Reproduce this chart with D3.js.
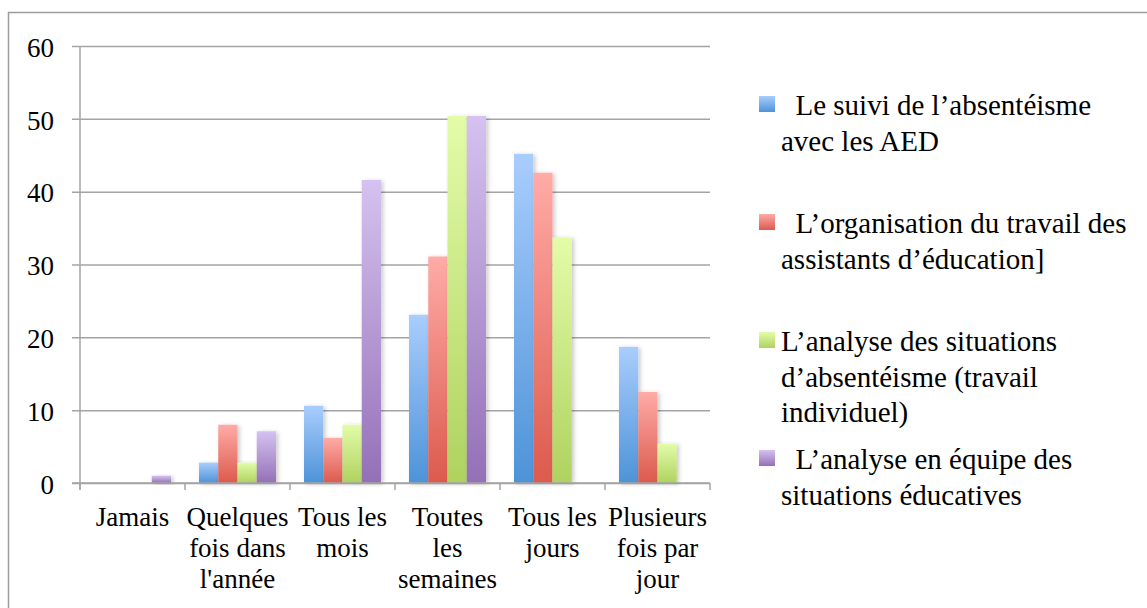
<!DOCTYPE html>
<html>
<head>
<meta charset="utf-8">
<script src="https://cdn.jsdelivr.net/npm/d3@7"></script>
<style>
  body { margin: 0; background: #fff; }
  text { font-family: "Liberation Serif", "Times New Roman", serif; fill: #000; }
</style>
</head>
<body>
<script>
// categories (x axis), each split into its printed lines
var categories = ["Jamais", "Quelques fois dans l'année", "Tous les mois", "Toutes les semaines", "Tous les jours", "Plusieurs fois par jour"];
var categoryLines = [["Jamais"], ["Quelques", "fois dans", "l'année"], ["Tous les", "mois"], ["Toutes", "les", "semaines"], ["Tous les", "jours"], ["Plusieurs", "fois par", "jour"]];

var seriesNames = ["Le suivi de l’absentéisme avec les AED",
    "L’organisation du travail des assistants d’éducation]",
    "L’analyse des situations d’absentéisme (travail individuel)",
    "L’analyse en équipe des situations éducatives"];
var legendLines = [["  Le suivi de l’absentéisme", "avec les AED"],
    ["  L’organisation du travail des", "assistants d’éducation]"],
    ["L’analyse des situations", "d’absentéisme (travail", "individuel)"],
    ["  L’analyse en équipe des", "situations éducatives"]];

var suivi = [0, 2.8, 10.6, 23.1, 45.2, 18.7];
var organisation = [0, 8.0, 6.2, 31.1, 42.6, 12.5];
var analyseIndiv = [0, 2.8, 8.0, 50.4, 33.7, 5.4];
var analyseEquipe = [1.0, 7.1, 41.6, 50.4, 0, 0];
var seriesValues = [suivi, organisation, analyseIndiv, analyseEquipe];

var yTicks = [0, 10, 20, 30, 40, 50, 60];

var colorsTop = ["#a9cdfd", "#ffaba7", "#e3fca9", "#d5c2f0"];
var colorsBottom = ["#4d93d8", "#dc5a4d", "#afd25f", "#9470b7"];

var width = 1147, height = 608;
var plotLeft = 80, plotRight = 710, plotTop = 46, plotBottom = 483;

var svg = d3.select("body").append("svg")
    .attr("width", width)
    .attr("height", height);

var defs = svg.append("defs");
seriesNames.forEach(function (s, i) {
    var g = defs.append("linearGradient")
        .attr("id", "grad" + i)
        .attr("x1", 0).attr("y1", 0).attr("x2", 0).attr("y2", 1);
    g.append("stop").attr("offset", "0%").attr("stop-color", colorsTop[i]);
    g.append("stop").attr("offset", "100%").attr("stop-color", colorsBottom[i]);
});
defs.append("filter")
    .attr("id", "shadow")
    .attr("x", "-20%").attr("y", "-10%").attr("width", "160%").attr("height", "130%")
    .append("feDropShadow")
    .attr("dx", 2).attr("dy", 1).attr("stdDeviation", 2)
    .attr("flood-color", "#000").attr("flood-opacity", 0.22);

// outer frame, cut by the picture edge
svg.append("rect")
    .attr("x", 8.5).attr("y", 12.5)
    .attr("width", 1200).attr("height", 700)
    .attr("fill", "none")
    .attr("stroke", "#9c9c9c")
    .attr("stroke-width", 1.5);

var x0 = d3.scaleBand().domain(categories).range([plotLeft, plotRight]).padding(0);
var x1 = d3.scaleBand().domain(d3.range(seriesNames.length))
    .range([0, x0.bandwidth()]).paddingInner(0).paddingOuter(0.727);
var y = d3.scaleLinear().domain([0, 60]).range([plotBottom, plotTop]);

// y axis with gridlines
var yAxis = svg.append("g")
    .attr("transform", "translate(" + (plotLeft - 8) + ",0)")
    .call(d3.axisLeft(y).tickValues(yTicks).tickSize(-(plotRight - plotLeft + 8)).tickPadding(18).tickFormat(d3.format("d")));
yAxis.select(".domain").remove();
yAxis.selectAll(".tick line").attr("stroke", "#a4a4a4").attr("stroke-width", 1.5);
yAxis.selectAll(".tick text")
    .attr("font-family", "Liberation Serif")
    .attr("font-size", 27)
    .attr("fill", "#000")
    .attr("dy", "0.38em");

// bars
var groups = svg.append("g")
    .selectAll("g")
    .data(categories)
    .join("g")
    .attr("transform", function (d) { return "translate(" + x0(d) + ",0)"; });

groups.selectAll("rect")
    .data(function (d, ci) {
        return seriesValues.map(function (vals, si) { return { s: si, v: vals[ci] }; })
            .filter(function (e) { return e.v > 0; });
    })
    .join("rect")
    .attr("x", function (d) { return x1(d.s); })
    .attr("y", function (d) { return y(d.v); })
    .attr("width", x1.bandwidth())
    .attr("height", function (d) { return y(0) - y(d.v); })
    .attr("fill", function (d) { return "url(#grad" + d.s + ")"; })
    .attr("filter", "url(#shadow)");

// x axis
var xAxis = svg.append("g").attr("stroke", "#a4a4a4").attr("stroke-width", 1.5);
xAxis.append("line")
    .attr("x1", plotLeft).attr("x2", plotLeft)
    .attr("y1", plotTop).attr("y2", plotBottom + 7);
xAxis.append("line")
    .attr("x1", plotLeft - 8).attr("x2", plotRight)
    .attr("y1", plotBottom).attr("y2", plotBottom);
var bounds = categories.map(function (c) { return x0(c); }).concat([plotRight]);
xAxis.selectAll("line.tk")
    .data(bounds)
    .join("line")
    .attr("class", "tk")
    .attr("x1", function (d) { return d; }).attr("x2", function (d) { return d; })
    .attr("y1", plotBottom).attr("y2", plotBottom + 7);

var labels = svg.append("g")
    .selectAll("text")
    .data(categories)
    .join("text")
    .attr("text-anchor", "middle")
    .attr("font-size", 27)
    .attr("transform", function (d) { return "translate(" + (x0(d) + x0.bandwidth() / 2) + ",526)"; });
labels.selectAll("tspan")
    .data(function (d, i) { return categoryLines[i]; })
    .join("tspan")
    .attr("x", 0)
    .attr("y", function (d, i) { return i * 31; })
    .text(function (d) { return d; });

// legend
var legendY = [96, 214, 332, 450];
var legend = svg.append("g")
    .selectAll("g")
    .data(seriesNames)
    .join("g")
    .attr("transform", function (d, i) { return "translate(759," + legendY[i] + ")"; });
legend.append("rect")
    .attr("width", 16).attr("height", 16)
    .attr("fill", function (d, i) { return "url(#grad" + i + ")"; });
var legendText = legend.append("text")
    .attr("font-size", 29)
    .attr("xml:space", "preserve")
    .style("white-space", "pre");
legendText.selectAll("tspan")
    .data(function (d, i) { return legendLines[i]; })
    .join("tspan")
    .attr("x", 22)
    .attr("y", function (d, i) { return 19 + i * 35.5; })
    .text(function (d) { return d; });
</script>
</body>
</html>
